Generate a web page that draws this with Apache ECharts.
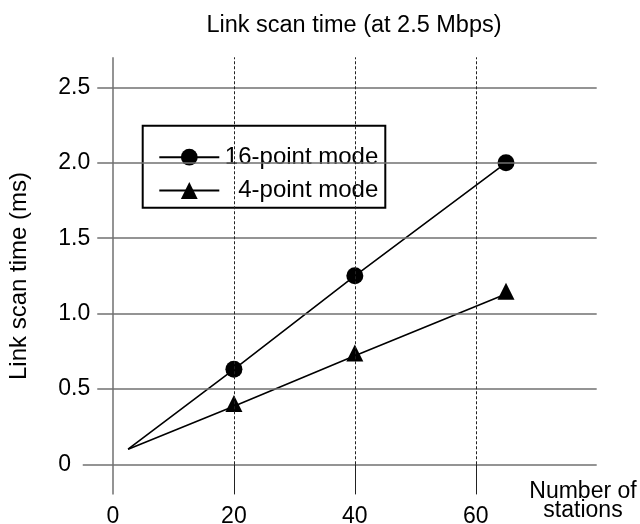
<!DOCTYPE html>
<html>
<head>
<meta charset="utf-8">
<script src="https://cdn.jsdelivr.net/npm/echarts@6/dist/echarts.min.js"></script>
<style>html,body{margin:0;padding:0;background:#fff}#c{width:640px;height:524px}</style>
</head>
<body>
<div id="c"></div>
<script>
// ---- data ----
const xTicks = [0, 20, 40, 60];
const yTicks = [0, 0.5, 1.0, 1.5, 2.0, 2.5];
const stations = [2.5, 20, 40, 65];
const mode16 = [0.1, 0.63, 1.25, 2.0];
const mode4 = [0.1, 0.385, 0.72, 1.13];
const seriesNames = ['16-point mode', '4-point mode'];
const titleText = 'Link scan time (at 2.5 Mbps)';
const yName = 'Link scan time (ms)';
const xName = 'Number of\nstations';

// ---- extents ----
const X_MIN = -5, X_MAX = 80, Y_MIN = -0.2, Y_MAX = 2.7;
const FONT = "'Liberation Sans', Arial, Helvetica, sans-serif";

const chart = echarts.init(document.getElementById('c'), null, {renderer: 'canvas'});

function pts(xs, ys) {
  return xs.map((x, i) => i === 0 ? {value: [x, ys[i]], symbol: 'none'} : {value: [x, ys[i]]});
}

const gray = {color: '#707070', width: 1.5, type: 'solid'};
const gridLines = [];
yTicks.forEach(v => {
  gridLines.push([{coord: [v === 0 ? -5 : -2.6, v], lineStyle: gray}, {coord: [X_MAX, v]}]);
});
xTicks.forEach(x => {
  if (x === 0) {
    gridLines.push([{coord: [x, Y_MIN], lineStyle: gray}, {coord: [x, Y_MAX]}]);
  } else {
    gridLines.push([{coord: [x, 0], lineStyle: {color: '#222', width: 1, type: [3, 2]}}, {coord: [x, Y_MAX]}]);
    gridLines.push([{coord: [x, Y_MIN], lineStyle: {color: '#222', width: 1, type: 'solid'}}, {coord: [x, 0]}]);
  }
});

const option = {
  backgroundColor: '#fff',
  animation: false,
  title: {
    text: titleText, left: 354, top: 13.8, padding: 0, textAlign: 'center',
    textStyle: {fontFamily: FONT, fontSize: 23.5, fontWeight: 'normal', color: '#000'}
  },
  grid: {left: 82.75, right: 43.3, top: 57.3, bottom: 29.6, containLabel: false, outerBoundsMode: 'none'},
  xAxis: {
    type: 'value', min: X_MIN, max: X_MAX, interval: 5,
    axisLine: {show: false}, axisTick: {show: false}, splitLine: {show: false},
    axisLabel: {
      margin: 10.5, fontFamily: FONT, fontSize: 23, color: '#000',
      formatter: v => (xTicks.indexOf(Math.round(v)) >= 0 && Math.abs(v - Math.round(v)) < 1e-6) ? String(Math.round(v)) : ''
    }
  },
  yAxis: {
    type: 'value', min: Y_MIN, max: Y_MAX, interval: 0.1,
    axisLine: {show: false}, axisTick: {show: false}, splitLine: {show: false},
    axisLabel: {
      margin: 24.5, align: 'left', fontFamily: FONT, fontSize: 23, color: '#000',
      formatter: v => {
        const k = yTicks.findIndex(t => Math.abs(t - v) < 1e-6);
        if (k < 0) return '';
        return yTicks[k] === 0 ? '0' : yTicks[k].toFixed(1);
      }
    }
  },
  legend: {
    data: seriesNames, orient: 'vertical', left: 158.3, top: 145.2, padding: 0,
    itemWidth: 60, itemHeight: 21, itemGap: 9.3, itemTextGap: 5,
    selectedMode: false,
    formatter: n => '{a|' + n + '}',
    textStyle: {
      color: '#000', fontFamily: FONT, fontSize: 24,
      rich: {a: {width: 154, align: 'right', fontFamily: FONT, fontSize: 24, lineHeight: 21, color: '#000'}}
    }
  },
  graphic: [
    {type: 'rect', z: 3, shape: {x: 142.7, y: 125.7, width: 242.6, height: 82},
     style: {fill: '#fff', stroke: '#000', lineWidth: 2}},
    {type: 'text', z: 5, x: 19, y: 276, rotation: Math.PI / 2,
     style: {text: yName, align: 'center', verticalAlign: 'middle', font: '24px ' + FONT, fill: '#000'}},
    {type: 'text', z: 5, x: 583, y: 501,
     style: {text: xName, align: 'center', verticalAlign: 'middle', font: '23px ' + FONT, lineHeight: 19, fill: '#000'}}
  ],
  series: [
    {
      name: 'grid', type: 'line', data: [], z: 1, silent: true,
      markLine: {silent: true, symbol: ['none', 'none'], label: {show: false}, animation: false, data: gridLines}
    },
    {
      name: seriesNames[0], type: 'line', z: 2, data: pts(stations, mode16),
      symbol: 'circle', symbolSize: 17,
      lineStyle: {color: '#000', width: 1.6}, itemStyle: {color: '#000'}
    },
    {
      name: seriesNames[1], type: 'line', z: 2, data: pts(stations, mode4),
      symbol: 'triangle', symbolSize: 17, symbolOffset: [0, -2.8],
      lineStyle: {color: '#000', width: 1.6}, itemStyle: {color: '#000'}
    }
  ]
};
chart.setOption(option);
</script>
</body>
</html>
